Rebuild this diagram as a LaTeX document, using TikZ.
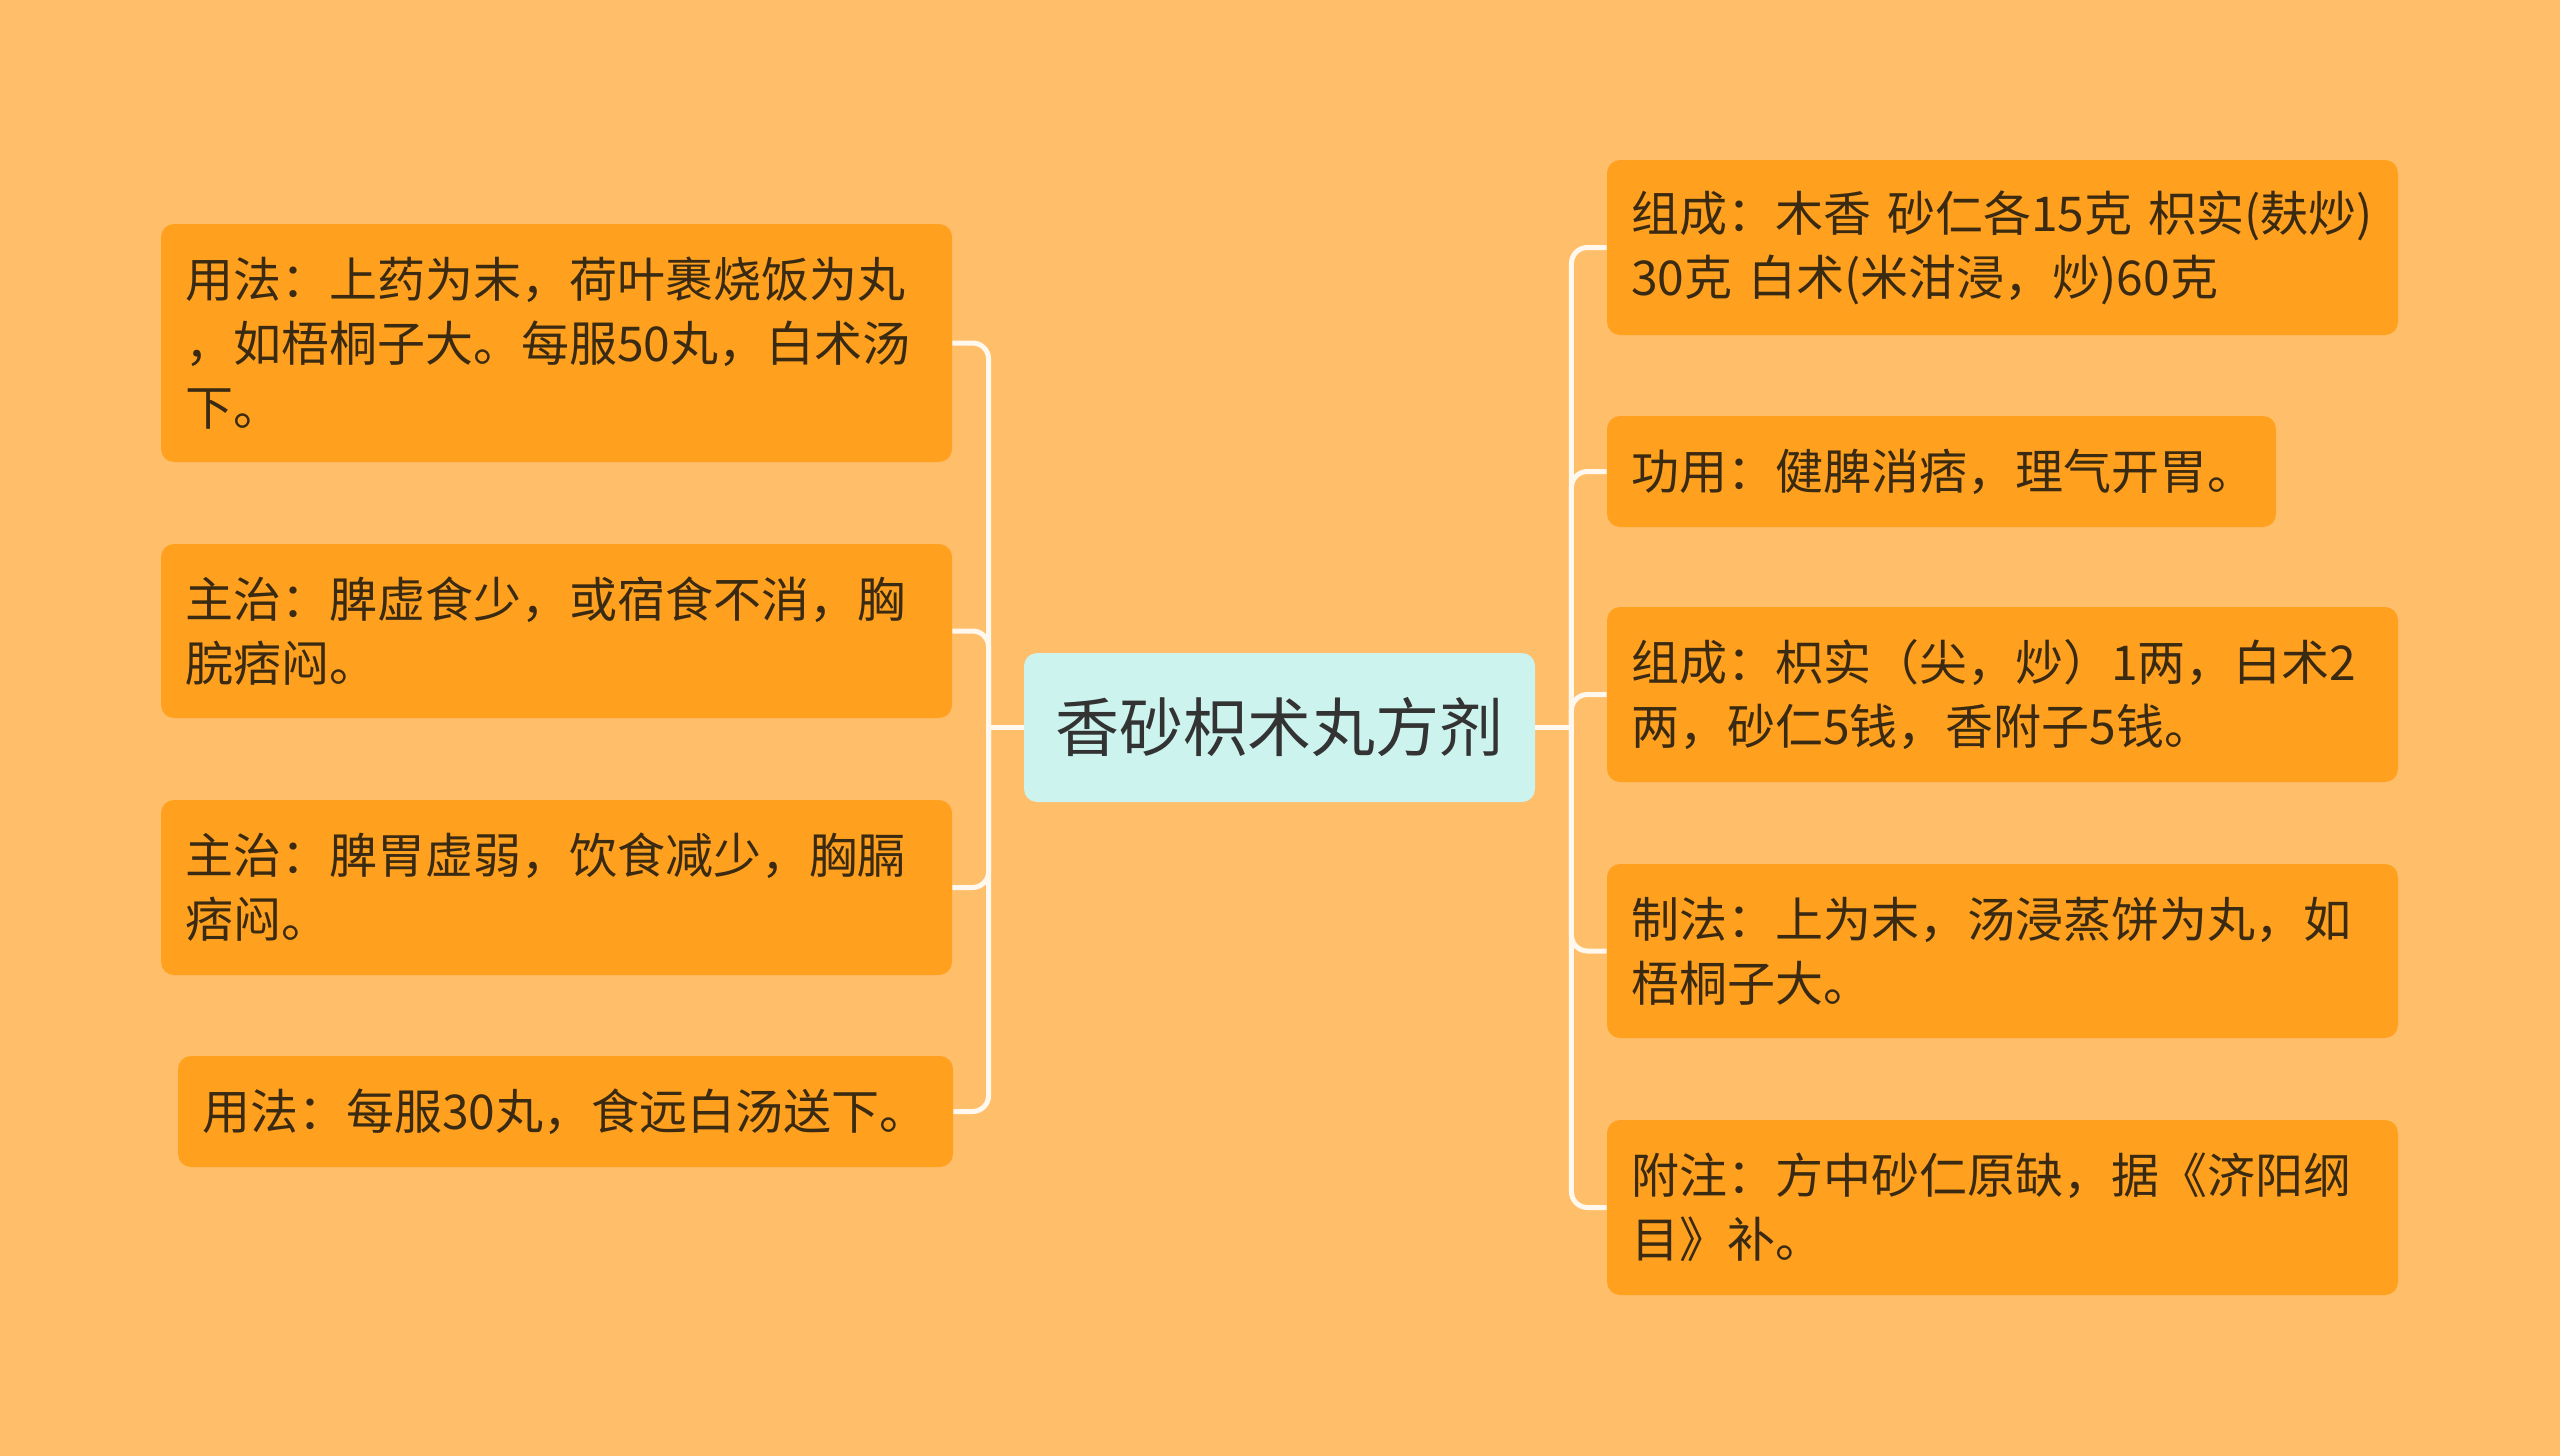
\documentclass[tikz,border=0pt]{standalone}
\usepackage{fontspec}
\setmainfont{Noto Sans CJK SC}
\definecolor{bgorange}{HTML}{FFBE69}
\definecolor{leaffill}{HTML}{FFA11F}
\definecolor{leaftext}{HTML}{3A2A12}
\definecolor{rootfill}{HTML}{CCF3EE}
\definecolor{roottext}{HTML}{333333}
\definecolor{linkcol}{HTML}{FFF8EE}

\begin{document}
\begin{tikzpicture}[x=0.5pt,y=-0.5pt,
   leaf/.style={fill=leaffill, text=leaftext, rounded corners=6.5pt,
      inner xsep=12pt, inner ysep=0pt, align=left, text width=371.5pt,
      font=\fontsize{24pt}{32pt}\selectfont},
   root/.style={fill=rootfill, text=roottext, rounded corners=6.5pt,
      minimum width=255.5pt, minimum height=74.5pt,
      font=\fontsize{32pt}{38pt}\selectfont},
   link/.style={draw=linkcol, line width=2.5pt, rounded corners=8pt}]
   % background
   \fill[bgorange] (0,0) rectangle (2560,1456);
   \useasboundingbox (0,0) rectangle (2560,1456);
   % centre
   \node[root] (root) at (1279.5,727.5) {香砂枳术丸方剂};
   % left side
   \node[leaf, minimum height=119pt] (use1) at (556.5,343)
      {用法：上药为末，荷叶裹烧饭为丸\\，如梧桐子大。每服50丸，白术汤\\下。};
   \node[leaf, minimum height=87pt] (cure1) at (556.5,631)
      {主治：脾虚食少，或宿食不消，胸\\脘痞闷。};
   \node[leaf, minimum height=87.5pt] (cure2) at (556.5,887.5)
      {主治：脾胃虚弱，饮食减少，胸膈\\痞闷。};
   \node[leaf, minimum height=55.5pt, text width=363.5pt] (use2) at (565.5,1111.5)
      {用法：每服30丸，食远白汤送下。};
   % right side
   \node[leaf, minimum height=87.5pt] (comp1) at (2002.5,247.5)
      {组成：木香 砂仁各15克 枳实(麸炒)\\30克 白术(米泔浸，炒)60克};
   \node[leaf, minimum height=55.5pt, text width=310.5pt] (func) at (1941.5,471.5)
      {功用：健脾消痞，理气开胃。};
   \node[leaf, minimum height=87.5pt] (comp2) at (2002.5,694.5)
      {组成：枳实（尖，炒）1两，白术2\\两，砂仁5钱，香附子5钱。};
   \node[leaf, minimum height=87pt] (make) at (2002.5,951)
      {制法：上为末，汤浸蒸饼为丸，如\\梧桐子大。};
   \node[leaf, minimum height=87.5pt] (note) at (2002.5,1207.5)
      {附注：方中砂仁原缺，据《济阳纲\\目》补。};
   % draw links
   \coordinate (lt) at ([xshift=-17.5pt]root.west);
   \coordinate (rt) at ([xshift=18pt]root.east);
   \draw[link] (root.west) -- (lt);
   \draw[link] (root.east) -- (rt);
   \foreach \n in {use1,cure1,cure2,use2}
      \draw[link] (lt) |- (\n.east);
   \foreach \n in {comp1,func,comp2,make,note}
      \draw[link] (rt) |- (\n.west);
\end{tikzpicture}
\end{document}
